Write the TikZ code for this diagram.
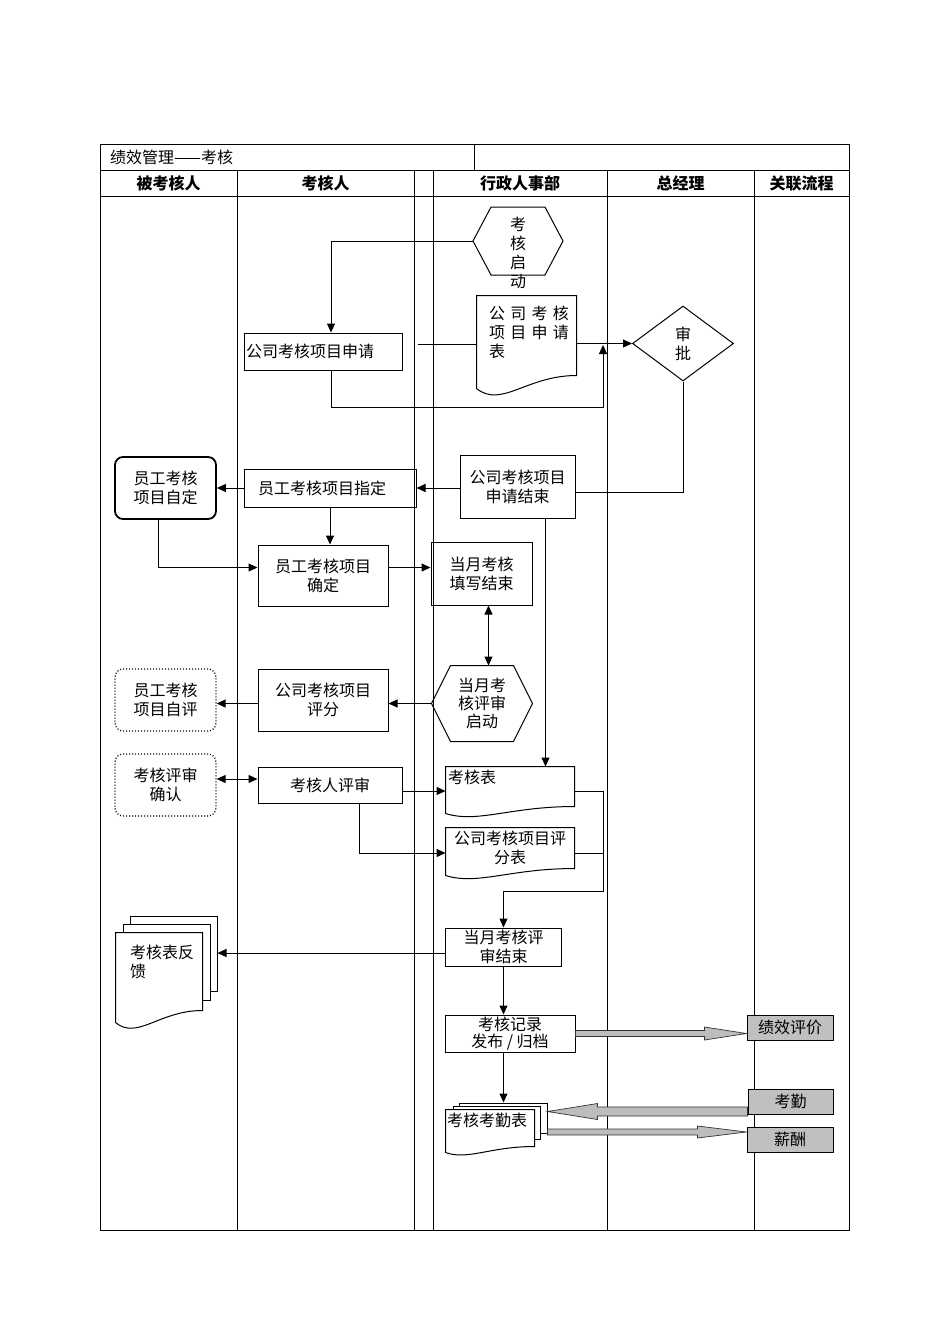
\documentclass[tikz,border=0pt]{standalone}
\usepackage{fontspec}
\setmainfont{Noto Sans CJK SC}
\usetikzlibrary{arrows.meta,shapes.geometric,calc}

\definecolor{flowgray}{HTML}{C0C0C0}
\definecolor{fatgray}{HTML}{BDBDBD}
\tikzset{
  box/.style={
    rectangle, draw, line width=1pt, inner sep=0pt,
    align=center, font=\fontsize{16}{19}\selectfont
  },
  softbox/.style={box, rounded corners=8pt, line width=1.8pt},
  dotbox/.style={box, rounded corners=8pt, dotted, line width=1.3pt},
  docnode/.style={box, draw=none, fill=white, align=left, inner ysep=0pt},
  shapenode/.style={box, draw=none},
  page/.style={rectangle, draw, fill=white, line width=1pt, inner sep=0pt},
  grayblock/.style={box, fill=flowgray},
  lanehead/.style={font=\fontsize{16}{19}\selectfont\bfseries, inner sep=0pt},
  arr/.style={-{Triangle[length=9pt,width=8pt]}, line width=1pt},
  dblarr/.style={{Triangle[length=9pt,width=8pt]}-{Triangle[length=9pt,width=8pt]}, line width=1pt},
  link/.style={line width=1pt},
  fatarr/.style={draw=black!80, fill=fatgray, line width=0.7pt}
}

% document outline: node, left drop, wave depth
\newcommand\docdraw[3]{%
  \draw[link] ($(#1.south west)+(0,#2)$) -- (#1.north west) -- (#1.north east)
    -- (#1.south east)
    .. controls ($(#1.south west)!0.5!(#1.south east)$)
       and ($(#1.south west)!0.25!(#1.south east)+(0,#3)$)
    .. ($(#1.south west)+(0,#2)$) -- cycle;}
% hexagon outline round a node
\newcommand\hexdraw[2]{%
  \draw[link] (#1.west) -- ([xshift=#2]#1.north west) -- ([xshift=-#2]#1.north east)
    -- (#1.east) -- ([xshift=-#2]#1.south east) -- ([xshift=#2]#1.south west) -- cycle;}
% wide grey arrow: from, to, shaft half, head half, head length
\newcommand\fatarrow[5]{%
  \draw[fatarr] let \p1=(#1), \p2=(#2), \n1={ifthenelse(\x2>\x1,1,-1)} in
    (\x1,{\y1+#3}) -- ({\x2-\n1*#5},{\y1+#3}) -- ({\x2-\n1*#5},{\y1+#4}) -- (\x2,\y1)
    -- ({\x2-\n1*#5},{\y1-#4}) -- ({\x2-\n1*#5},{\y1-#3}) -- (\x1,{\y1-#3}) -- cycle;}

\begin{document}
\begin{tikzpicture}[x=1pt,y=-1pt]
  \useasboundingbox (0,0) rectangle (950,1344);

  % Frame and lanes
  \draw[line width=0.8pt] (100,144) rectangle (849,1230);
  \draw[line width=0.8pt] (100,170) -- (849,170) (100,196) -- (849,196)
    (474,144) -- (474,170);
  \foreach \x in {237,414,433,607,754}
    \draw[line width=0.8pt] (\x,170) -- (\x,1230);

  \node[font=\fontsize{16}{19}\selectfont, inner sep=0pt, anchor=west]
    (title) at (110,157) {绩效管理——考核};
  \node[lanehead] (hd1) at (168.5,183) {被考核人};
  \node[lanehead] (hd2) at (325.5,183) {考核人};
  \node[lanehead] (hd3) at (520,183) {行政人事部};
  \node[lanehead] (hd4) at (680.5,183) {总经理};
  \node[lanehead] (hd5) at (801.5,183) {关联流程};

  % Start and application
  \node[shapenode, minimum width=89pt, minimum height=67pt] (start) at (518,241) {};
  \hexdraw{start}{18pt}
  \node[shapenode] (starttx) at (518,253) {考\\核\\启\\动};

  \node[box, minimum width=158pt, minimum height=37pt, text width=154pt,
        inner xsep=2pt, align=left] (appl) at (323,351.5) {公司考核项目申请};
  \node[docnode, minimum width=99pt, text width=75pt, inner xsep=12pt,
        text height=23pt, text depth=56pt] (applform) at (526.5,335.5)
    {公~司~考~核\\项~目~申~请\\表};
  \docdraw{applform}{13}{33}
  \node[box, diamond, minimum width=101pt, minimum height=75pt] (appr)
    at (683,343.5) {审\\批};

  \coordinate (gap) at (418,344);
  \coordinate (merge) at (603,345);
  \coordinate (mergelow) at (603,407);
  \draw[arr] (start.west) -| ([xshift=8pt]appl.north);
  \draw[link] (gap) -- (gap -| applform.west);
  \draw[arr] (applform.east |- appr.west) -- (appr.west);
  \draw[arr] ([xshift=8pt]appl.south) |- (mergelow) -- (merge);

  % Assessment items
  \node[box, minimum width=115pt, minimum height=63pt] (applend) at (517.5,486.5)
    {公司考核项目\\申请结束};
  \node[box, minimum width=172pt, minimum height=38pt, text width=144pt,
        inner xsep=14pt, align=left] (assign) at (330,488) {员工考核项目指定};
  \node[softbox, minimum width=101pt, minimum height=62pt] (selfset) at (165.5,488)
    {员工考核\\项目自定};
  \node[box, minimum width=130pt, minimum height=61pt] (confirm) at (323,575.5)
    {员工考核项目\\确定};
  \node[box, minimum width=101pt, minimum height=63pt] (filled) at (481.5,573.5)
    {当月考核\\填写结束};

  \draw[link] (appr.south) |- ([yshift=-6pt]applend.east);
  \draw[arr] (applend.west |- assign.east) -- (assign.east);
  \draw[arr] (assign.west) -- (selfset.east);
  \draw[arr] (assign.south) -- (assign.south |- confirm.north);
  \draw[arr] ([xshift=-7pt]selfset.south) |- ([yshift=8pt]confirm.west);
  \draw[arr] ([yshift=8pt]confirm.east) -- ([yshift=8pt]confirm.east -| filled.west);

  % Monthly review
  \node[shapenode, minimum width=100pt, minimum height=75pt,
        font=\fontsize{16}{18}\selectfont] (revstart) at (482,703.5)
    {当月考\\核评审\\启动};
  \hexdraw{revstart}{19pt}
  \node[box, minimum width=130pt, minimum height=62pt] (score) at (323,700)
    {公司考核项目\\评分};
  \node[dotbox, minimum width=101pt, minimum height=62pt] (selfeval) at (165.5,700)
    {员工考核\\项目自评};
  \node[dotbox, minimum width=101pt, minimum height=62pt] (revconf) at (165.5,785)
    {考核评审\\确认};
  \node[box, minimum width=144pt, minimum height=36pt] (reviewer) at (330,785)
    {考核人评审};

  \draw[dblarr] ([xshift=7pt]filled.south) -- ([xshift=7pt]filled.south |- revstart.north);
  \draw[arr] (revstart.west) -- (revstart.west -| score.east);
  \draw[arr] (score.west |- revstart.west) -- (selfeval.east |- revstart.west);
  \draw[dblarr] ([yshift=6pt]revconf.east) -- ([yshift=6pt]reviewer.west);

  % Forms
  \node[docnode, minimum width=128pt, text width=124pt, inner xsep=2pt,
        text height=16pt, text depth=23pt] (sheet) at (510,786.5) {考核表};
  \docdraw{sheet}{7}{17}
  \node[docnode, align=center, minimum width=128pt, text width=122pt,
        inner xsep=3pt, minimum height=40pt] (scoresheet) at (510,848)
    {公司考核项目评\\分表};
  \docdraw{scoresheet}{7}{17}
  \node[box, minimum width=116pt, minimum height=38pt] (revend) at (503.5,947)
    {当月考核评\\审结束};

  \coordinate (collect) at (603,891);
  \draw[arr] ([yshift=-6pt]reviewer.east) -- ([yshift=-6pt]reviewer.east -| sheet.west);
  \draw[arr] ([xshift=29pt]reviewer.south) |- ([yshift=-5pt]scoresheet.west);
  \draw[arr] ([xshift=28pt]applend.south) -- ([xshift=28pt]applend.south |- sheet.north);
  \draw[arr] ([yshift=-5pt]sheet.east) -| (collect) -| (revend.north);
  \draw[link] ([yshift=-5pt]scoresheet.east) -- ([yshift=-5pt]scoresheet.east -| collect);

  % Feedback pages
  \node[page, minimum width=87pt, minimum height=75pt] (fbback) at (173.5,953.5) {};
  \node[page, minimum width=87pt, minimum height=76pt] (fbmid) at (166.5,962) {};
  \node[docnode, minimum width=86pt, text width=58pt, inner xsep=14pt,
        text height=25pt, text depth=52pt] (fb) at (159,971.5) {考核表反\\馈};
  \docdraw{fb}{12}{30}
  \draw[arr] ([yshift=-6pt]revend.west) -- ([yshift=-6pt]revend.west -| fbback.east);

  % Records and related flows
  \node[box, minimum width=130pt, minimum height=37pt,
        font=\fontsize{16}{17}\selectfont] (record) at (510,1033.5)
    {考核记录\\发布 / 归档};
  \node[grayblock, minimum width=86pt, minimum height=25pt] (perf) at (790,1027.5) {绩效评价};
  \node[grayblock, minimum width=85pt, minimum height=25pt] (attend) at (790.5,1101.5) {考勤};
  \node[grayblock, minimum width=86pt, minimum height=25pt] (salary) at (790,1139.5) {薪酬};

  \node[page, minimum width=88pt, minimum height=30pt] (atback) at (503,1118) {};
  \node[page, minimum width=87pt, minimum height=33pt] (atmid) at (496.5,1122.5) {};
  \node[docnode, minimum width=88pt, text width=86pt, inner xsep=1pt,
        text height=16pt, text depth=20pt] (atsheet) at (490,1128) {考核考勤表};
  \docdraw{atsheet}{6}{14}

  \draw[arr] (revend.south) -- (revend.south |- record.north);
  \draw[arr] (revend.south |- record.south) -- (revend.south |- atback.north);
  \fatarrow{record.east}{perf.west}{3pt}{6.5pt}{42pt}
  \fatarrow{[yshift=-10pt]attend.west}{atback.east}{4.5pt}{8pt}{50pt}
  \fatarrow{[yshift=-14pt]atback.east}{salary.west}{3pt}{6pt}{49pt}

\end{tikzpicture}
\end{document}
